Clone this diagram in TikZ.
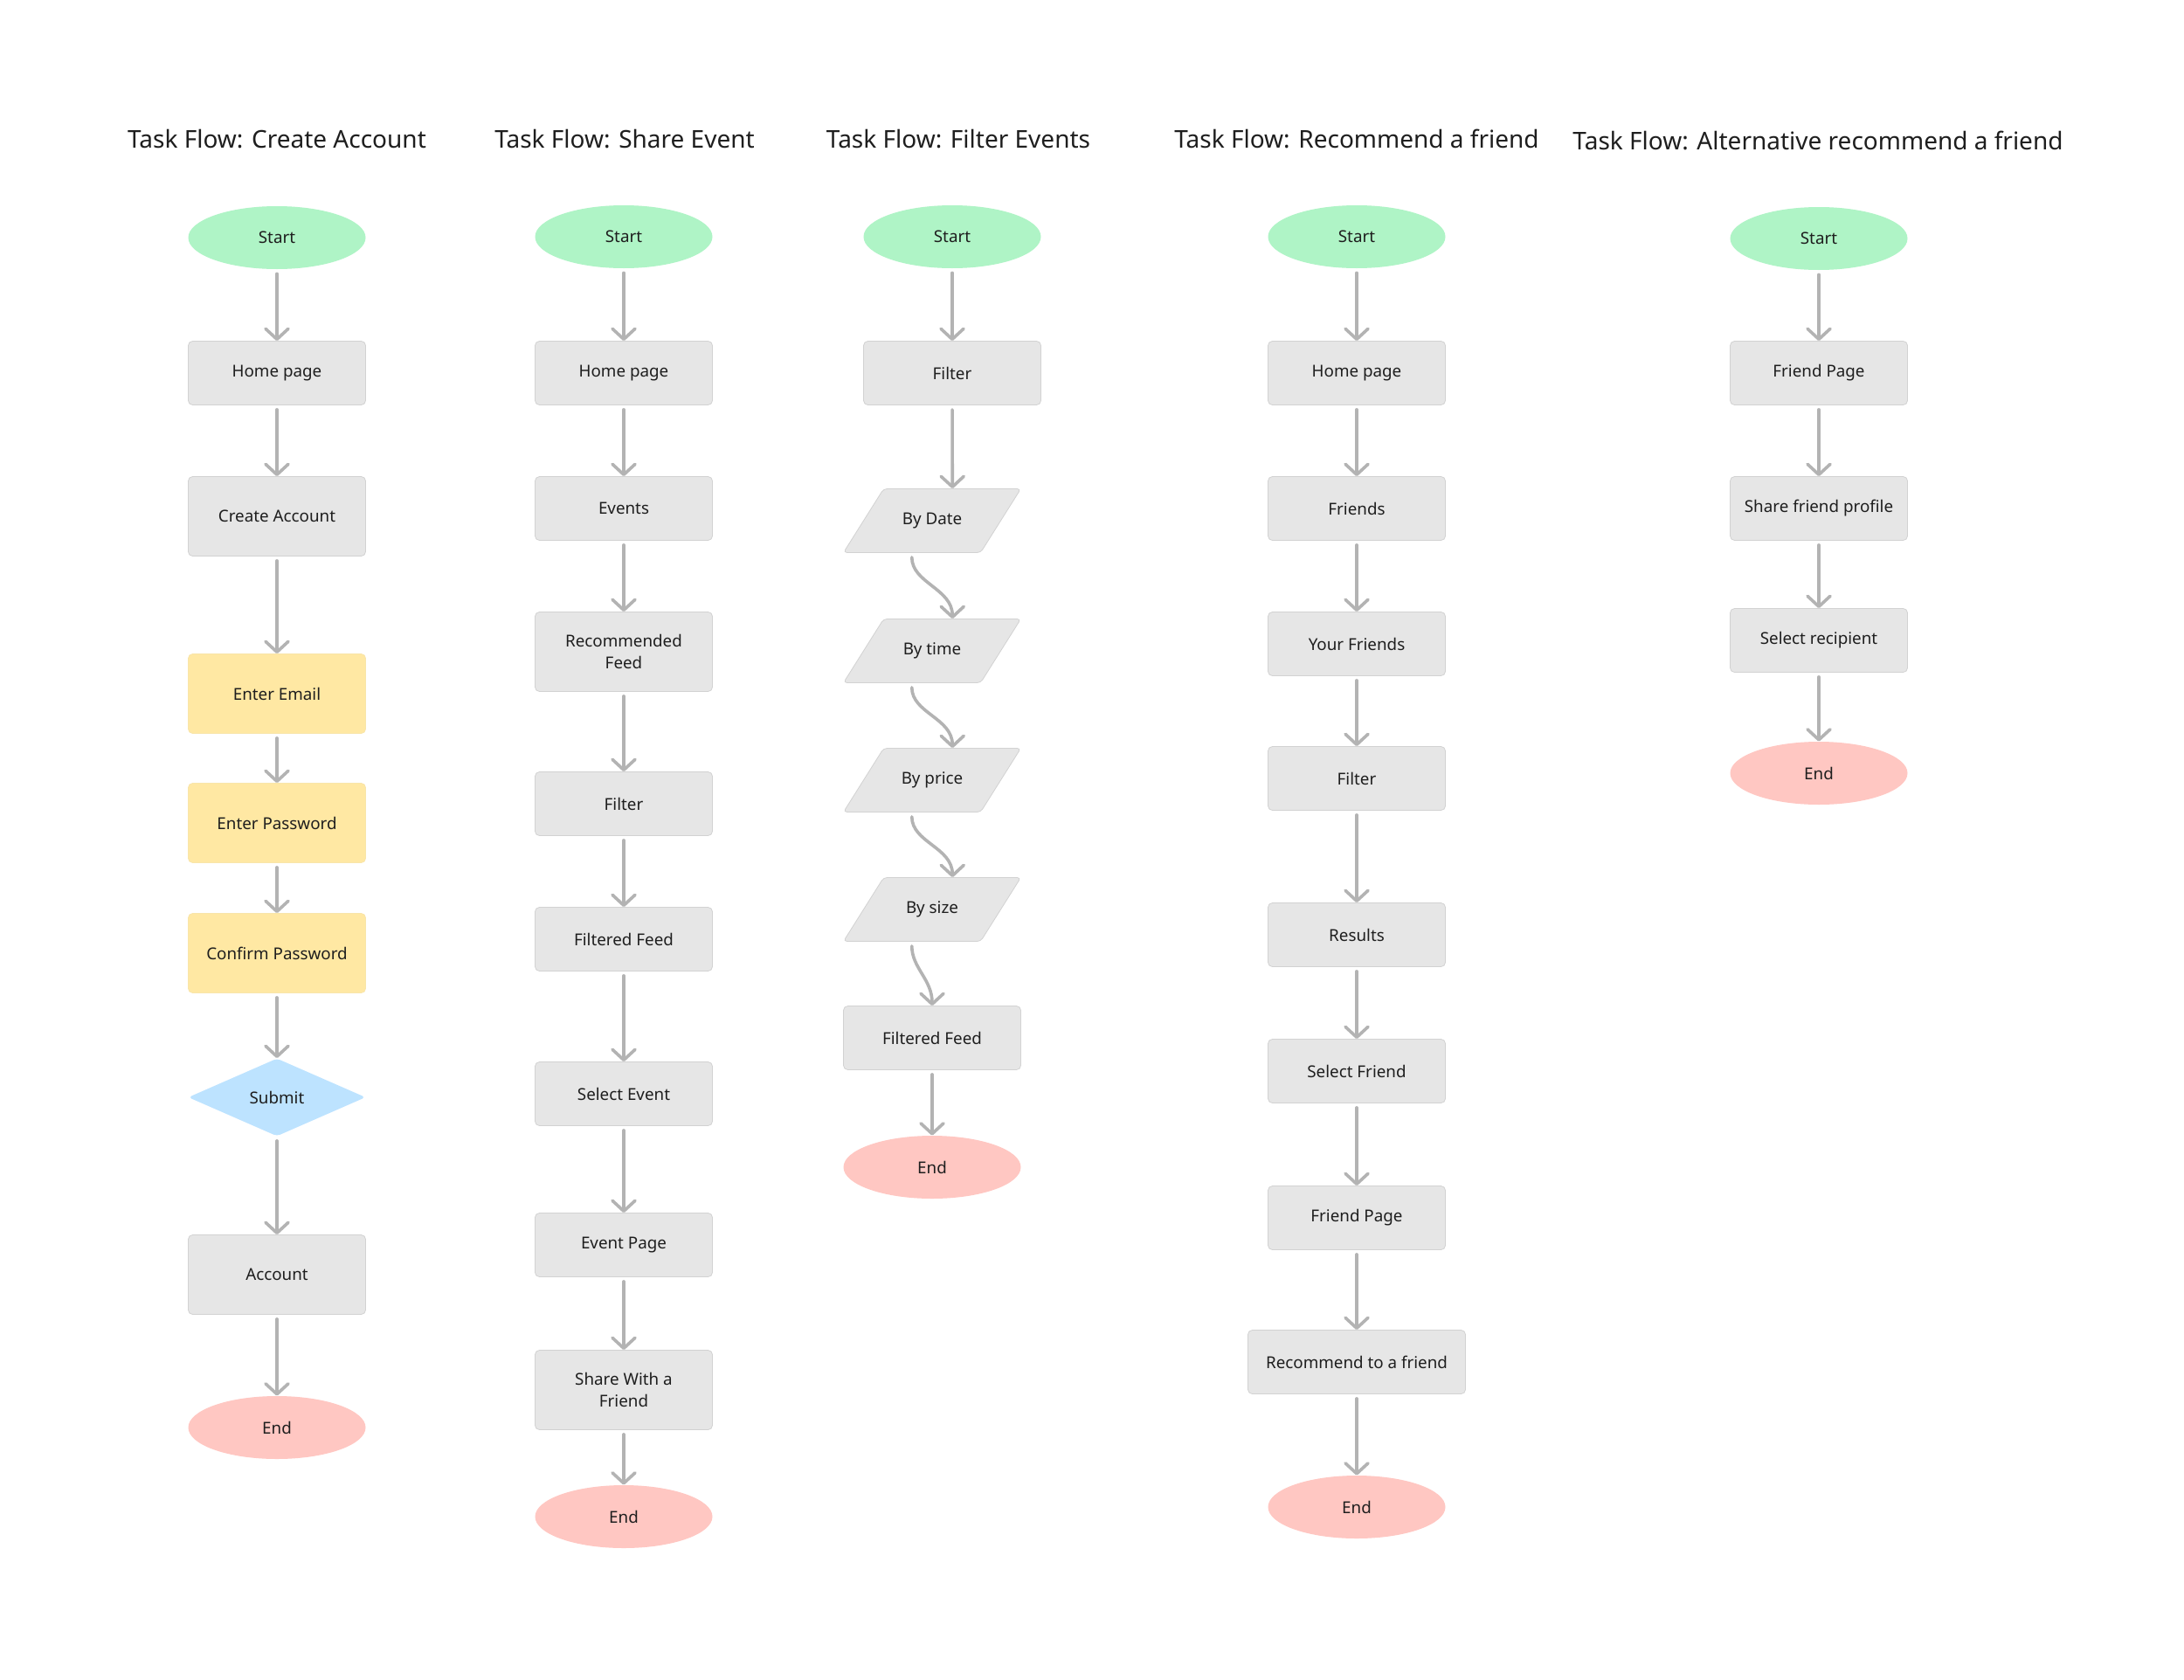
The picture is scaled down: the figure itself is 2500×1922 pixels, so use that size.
\documentclass[tikz,border=0pt]{standalone}
\usepackage{fontspec}
\setmainfont{Noto Sans}
\usetikzlibrary{shapes.geometric,arrows.meta}

\definecolor{startgreen}{HTML}{AFF4C6}
\definecolor{endred}{HTML}{FFC7C2}
\definecolor{stepgray}{HTML}{E6E6E6}
\definecolor{stepline}{HTML}{D2D2D2}
\definecolor{inputyellow}{HTML}{FFE8A3}
\definecolor{decisionblue}{HTML}{BDE3FF}
\definecolor{arrowgray}{HTML}{B3B3B3}
\definecolor{inkblack}{HTML}{1E1E1E}

\tikzset{
  flowtitle/.style={font=\fontsize{14}{17}\selectfont, text=inkblack},
  label/.style={font=\fontsize{9.4}{12.5}\selectfont, text=inkblack, align=center},
  terminal/.style={label, ellipse, inner sep=0pt, minimum width=101.5pt, minimum height=36pt},
  startnode/.style={terminal, fill=startgreen},
  endnode/.style={terminal, fill=endred},
  stepbox/.style={label, rectangle, rounded corners=2.5pt, fill=stepgray, draw=stepline,
    line width=0.4pt, minimum width=101.5pt, minimum height=36.5pt},
  tallbox/.style={stepbox, minimum height=45.5pt},
  inputbox/.style={tallbox, fill=inputyellow, draw=inputyellow!85!stepline},
  decision/.style={label, diamond, inner sep=0pt, rounded corners=2pt, fill=decisionblue,
    minimum width=101.5pt, minimum height=44.5pt},
  choice/.style={label, trapezium, trapezium left angle=57.8, trapezium right angle=122.2,
    trapezium stretches body, text height=7pt, text depth=2.3pt, inner ysep=13.6pt,
    rounded corners=2pt, fill=stepgray, draw=stepline, line width=0.4pt,
    minimum width=101.5pt},
  flow/.style={draw=arrowgray, line width=1.8pt, line cap=round,
    -{Straight Barb[length=6pt,width=13pt,round]}, shorten <=2.5pt}
}

\begin{document}
\begin{tikzpicture}[x=0.5pt, y=-0.5pt]
    \useasboundingbox[fill=white] (0,0) rectangle (2500,1922);

    % Task flow: Create Account
    \node[flowtitle] (ca-title) at (317,159) {Task Flow: Create Account};
    \node[startnode] (ca-start) at (317,272) {Start};
    \node[stepbox] (ca-home) at (317,427) {Home page};
    \node[tallbox] (ca-create) at (317,591) {Create Account};
    \node[inputbox] (ca-email) at (317,794) {Enter Email};
    \node[inputbox] (ca-pass) at (317,942) {Enter Password};
    \node[inputbox] (ca-confirm) at (317,1091) {Confirm Password};
    \node[decision] (ca-submit) at (317,1256) {Submit};
    \node[tallbox] (ca-account) at (317,1459) {Account};
    \node[endnode] (ca-end) at (317,1634) {End};

    % Task flow: Share Event
    \node[flowtitle] (se-title) at (715,159) {Task Flow: Share Event};
    \node[startnode] (se-start) at (714,271) {Start};
    \node[stepbox] (se-home) at (714,427) {Home page};
    \node[stepbox] (se-events) at (714,582) {Events};
    \node[tallbox] (se-feed) at (714,746) {Recommended\\Feed};
    \node[stepbox] (se-filter) at (714,920) {Filter};
    \node[stepbox] (se-filtered) at (714,1075) {Filtered Feed};
    \node[stepbox] (se-select) at (714,1252) {Select Event};
    \node[stepbox] (se-page) at (714,1425) {Event Page};
    \node[tallbox] (se-share) at (714,1591) {Share With a\\Friend};
    \node[endnode] (se-end) at (714,1736) {End};

    % Task flow: Filter Events
    \node[flowtitle] (fe-title) at (1097,159) {Task Flow: Filter Events};
    \node[startnode] (fe-start) at (1090,271) {Start};
    \node[stepbox] (fe-filter) at (1090,427) {Filter};
    \node[choice] (fe-date) at (1067,596) {By Date};
    \node[choice] (fe-time) at (1067,745) {By time};
    \node[choice] (fe-price) at (1067,893) {By price};
    \node[choice] (fe-size) at (1067,1041) {By size};
    \node[stepbox] (fe-feed) at (1067,1188) {Filtered Feed};
    \node[endnode] (fe-end) at (1067,1336) {End};

    % Task flow: Recommend a friend
    \node[flowtitle] (rf-title) at (1553,159) {Task Flow: Recommend a friend};
    \node[startnode] (rf-start) at (1553,271) {Start};
    \node[stepbox] (rf-home) at (1553,427) {Home page};
    \node[stepbox] (rf-friends) at (1553,582) {Friends};
    \node[stepbox] (rf-your) at (1553,737) {Your Friends};
    \node[stepbox] (rf-filter) at (1553,891) {Filter};
    \node[stepbox] (rf-results) at (1553,1070) {Results};
    \node[stepbox] (rf-select) at (1553,1226) {Select Friend};
    \node[stepbox] (rf-page) at (1553,1394) {Friend Page};
    \node[stepbox, minimum width=124.5pt] (rf-recommend) at (1553,1559) {Recommend to a friend};
    \node[endnode] (rf-end) at (1553,1725) {End};

    % Task flow: Alternative recommend a friend
    \node[flowtitle] (ar-title) at (2081,161) {Task Flow: Alternative recommend a friend};
    \node[startnode] (ar-start) at (2082,273) {Start};
    \node[stepbox] (ar-page) at (2082,427) {Friend Page};
    \node[stepbox] (ar-share) at (2082,582) {Share friend profile};
    \node[stepbox] (ar-recipient) at (2082,733) {Select recipient};
    \node[endnode] (ar-end) at (2082,885) {End};

    % straight connectors
    \foreach \a/\b in {ca-start/ca-home, ca-home/ca-create, ca-create/ca-email,
        ca-email/ca-pass, ca-pass/ca-confirm, ca-confirm/ca-submit,
        ca-submit/ca-account, ca-account/ca-end,
        se-start/se-home, se-home/se-events, se-events/se-feed, se-feed/se-filter,
        se-filter/se-filtered, se-filtered/se-select, se-select/se-page,
        se-page/se-share, se-share/se-end,
        fe-start/fe-filter, fe-filter/fe-date.top side, fe-feed/fe-end,
        rf-start/rf-home, rf-home/rf-friends, rf-friends/rf-your, rf-your/rf-filter,
        rf-filter/rf-results, rf-results/rf-select, rf-select/rf-page,
        rf-page/rf-recommend, rf-recommend/rf-end,
        ar-start/ar-page, ar-page/ar-share, ar-share/ar-recipient, ar-recipient/ar-end}
        \draw[flow] (\a) -- (\b);

    % curved connectors between the filters
    \foreach \a/\b in {fe-date/fe-time, fe-time/fe-price, fe-price/fe-size}
        \draw[flow] (\a.bottom side) to[out=270, in=90] (\b.top side);
    \draw[flow] (fe-size.bottom side) to[out=270, in=90] (fe-feed);

\end{tikzpicture}
\end{document}
